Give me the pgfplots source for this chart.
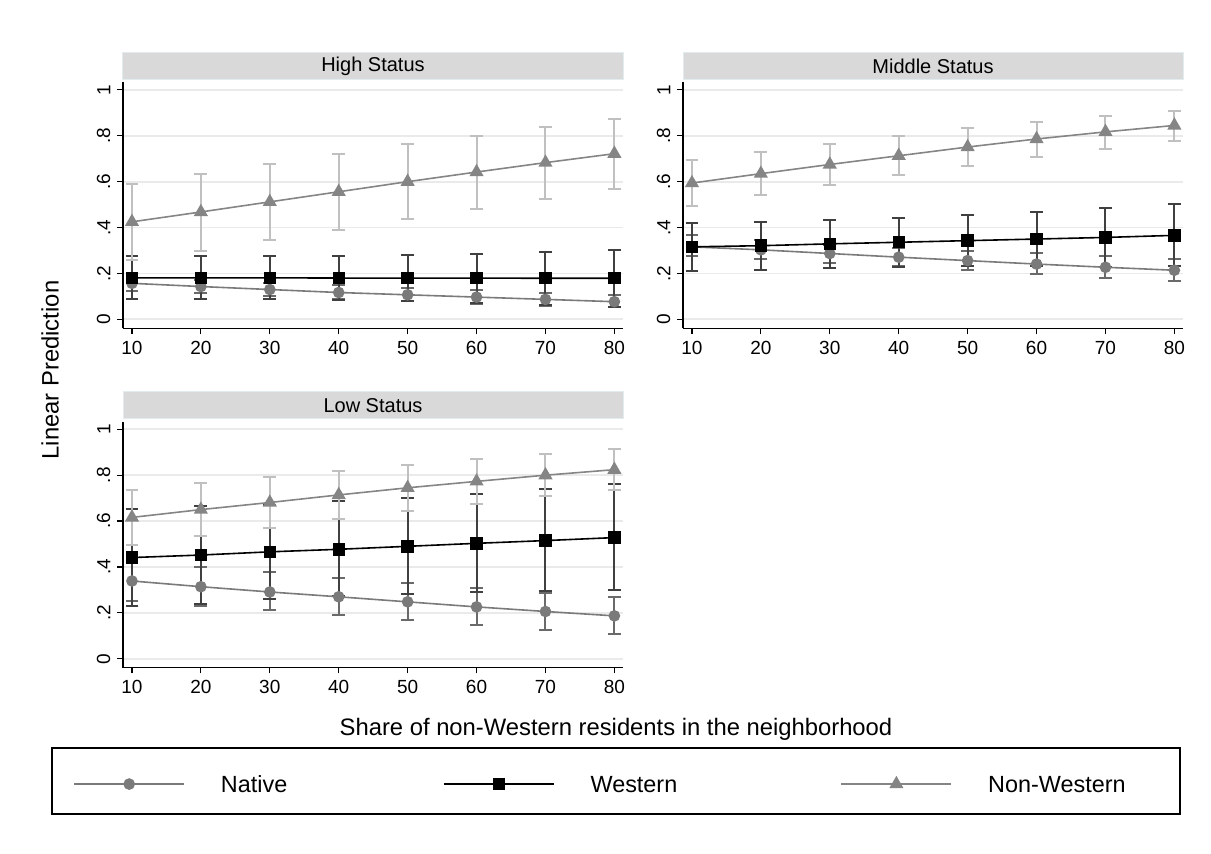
\documentclass[border=0pt]{standalone}
\usepackage{fontspec}
\setmainfont{Liberation Sans}
\usepackage{pgfplots}
\usepackage{pgfplotstable}
\pgfplotsset{compat=1.18}

\definecolor{natcol}{HTML}{7A7A7A}
\definecolor{natci}{HTML}{6A6A6A}
\definecolor{wesci}{HTML}{404040}
\definecolor{nwcol}{HTML}{858585}
\definecolor{nwci}{HTML}{C0C0C0}
\definecolor{hdr}{HTML}{D9D9D9}
\definecolor{hdrline}{HTML}{E2EBED}
\definecolor{gridc}{HTML}{EAEAEA}

% x  y  lo  hi
\pgfplotstableread{
x y lo hi
10 0.157 0.124 0.190
20 0.143 0.115 0.172
30 0.130 0.100 0.160
40 0.117 0.087 0.150
50 0.107 0.078 0.137
60 0.097 0.068 0.127
70 0.087 0.060 0.116
80 0.077 0.052 0.108
}\highnat
\pgfplotstableread{
x y lo hi
10 0.181 0.088 0.277
20 0.181 0.088 0.277
30 0.181 0.087 0.276
40 0.180 0.084 0.278
50 0.180 0.080 0.281
60 0.180 0.072 0.287
70 0.179 0.064 0.294
80 0.179 0.056 0.301
}\highwes
\pgfplotstableread{
x y lo hi
10 0.425 0.258 0.590
20 0.468 0.300 0.635
30 0.512 0.345 0.678
40 0.556 0.390 0.720
50 0.600 0.437 0.762
60 0.642 0.481 0.801
70 0.683 0.526 0.838
80 0.722 0.570 0.871
}\highnw
\pgfplotstableread{
x y lo hi
10 0.316 0.275 0.367
20 0.303 0.262 0.345
30 0.287 0.246 0.326
40 0.271 0.233 0.310
50 0.256 0.217 0.300
60 0.241 0.197 0.290
70 0.227 0.181 0.275
80 0.214 0.167 0.265
}\midnat
\pgfplotstableread{
x y lo hi
10 0.316 0.211 0.421
20 0.321 0.217 0.425
30 0.329 0.224 0.434
40 0.336 0.230 0.442
50 0.343 0.232 0.454
60 0.350 0.232 0.468
70 0.357 0.230 0.484
80 0.366 0.231 0.501
}\midwes
\pgfplotstableread{
x y lo hi
10 0.594 0.494 0.693
20 0.635 0.541 0.729
30 0.675 0.586 0.765
40 0.713 0.628 0.800
50 0.751 0.668 0.832
60 0.786 0.707 0.861
70 0.817 0.743 0.886
80 0.845 0.778 0.907
}\midnw
\pgfplotstableread{
x y lo hi
10 0.339 0.252 0.425
20 0.314 0.232 0.400
30 0.291 0.212 0.378
40 0.270 0.190 0.352
50 0.248 0.168 0.330
60 0.226 0.147 0.309
70 0.206 0.127 0.287
80 0.187 0.106 0.270
}\lownat
\pgfplotstableread{
x y lo hi
10 0.441 0.229 0.653
20 0.452 0.240 0.664
30 0.466 0.262 0.672
40 0.477 0.272 0.687
50 0.490 0.281 0.702
60 0.503 0.289 0.719
70 0.515 0.294 0.740
80 0.528 0.299 0.762
}\lowwes
\pgfplotstableread{
x y lo hi
10 0.616 0.494 0.735
20 0.650 0.533 0.765
30 0.681 0.571 0.793
40 0.714 0.607 0.820
50 0.745 0.642 0.846
60 0.773 0.675 0.870
70 0.800 0.709 0.892
80 0.824 0.737 0.912
}\lownw

\pgfplotsset{
 panel/.style={
  scale only axis, width=250pt, height=123pt,
  xmin=8.7, xmax=81.25, ymin=-0.039, ymax=1.033,
  axis lines*=left,
  axis line style={black, line width=0.6pt},
  xtick={10,20,30,40,50,60,70,80},
  xticklabels={10,20,30,40,50,60,70,80},
  ytick={0,0.2,0.4,0.6,0.8,1},
  yticklabels={0,.2,.4,.6,.8,1},
  tick align=outside, major tick length=2.8pt,
  tick style={black, line width=0.6pt},
  ymajorgrids, grid style={gridc, line width=0.9pt},
  xticklabel style={font=\fontsize{9.5}{11}\selectfont},
  yticklabel style={font=\fontsize{9.5}{11}\selectfont, rotate=90, anchor=south},
  every axis title/.style={at={(0.5,1)}, anchor=south, yshift=1.15pt,
    fill=hdr, draw=hdrline, line width=0.5pt, minimum width=250pt,
    minimum height=13.65pt, inner sep=0pt, font=\fontsize{10}{12}\selectfont},
  clip=false,
 },
 ci/.style={draw=none, mark=none, forget plot,
  error bars/.cd, y dir=both, y explicit, error mark=|,
  error bar style={draw=#1, line width=1pt},
  error mark options={draw=#1, line width=1pt, mark size=3.2pt}},
 natline/.style={natcol, line width=0.8pt, mark=*, mark size=2.5pt,
  mark options={solid, fill=natcol, draw=natcol}},
 wesline/.style={black, line width=0.8pt, mark=square*, mark size=2.7pt,
  mark options={solid, fill=black, draw=black}},
 nwline/.style={nwcol, line width=0.8pt, mark=triangle*, mark size=3.3pt,
  mark options={solid, fill=nwcol, draw=nwcol}},
}

\newcommand{\cis}[3]{%
 \addplot[ci=natci] table[x=x, y=y, y error plus expr=\thisrow{hi}-\thisrow{y}, y error minus expr=\thisrow{y}-\thisrow{lo}] {#1};
 \addplot[ci=wesci] table[x=x, y=y, y error plus expr=\thisrow{hi}-\thisrow{y}, y error minus expr=\thisrow{y}-\thisrow{lo}] {#2};
 \addplot[ci=nwci] table[x=x, y=y, y error plus expr=\thisrow{hi}-\thisrow{y}, y error minus expr=\thisrow{y}-\thisrow{lo}] {#3};
 \addplot[natline, forget plot] table[x=x, y=y] {#1};
 \addplot[wesline, forget plot] table[x=x, y=y] {#2};
 \addplot[nwline, forget plot] table[x=x, y=y] {#3};
}

\begin{document}
\begin{tikzpicture}
\useasboundingbox (0,0) rectangle (605.5pt,-426.5pt);

\begin{axis}[panel, at={(61.5pt,-164.15pt)}, anchor=south west,
  title={High Status},
  ylabel={Linear Prediction},
  ylabel style={at={(axis description cs:-0.146,-0.1695)}, anchor=center, rotate=0,
    font=\fontsize{11.9}{14}\selectfont}]
\cis{\highnat}{\highwes}{\highnw}
\end{axis}

\begin{axis}[panel, at={(341.5pt,-164.15pt)}, anchor=south west,
  title={Middle Status}]
\cis{\midnat}{\midwes}{\midnw}
\end{axis}

\begin{axis}[panel, at={(61.5pt,-333.85pt)}, anchor=south west,
  title={Low Status},
  xlabel={Share of non-Western residents in the neighborhood},
  xlabel style={at={(axis description cs:0.986,-0.2492)}, anchor=center,
    font=\fontsize{11.9}{14}\selectfont},
  legend columns=3,
  legend cell align=left,
  legend style={draw=none, fill=none, inner sep=0pt,
    at={(axis description cs:-0.100,-0.473)}, anchor=west,
    font=\fontsize{11.7}{14}\selectfont,
    nodes={inner sep=0pt, text height=8.4pt, text depth=0pt},
    /tikz/every even column/.append style={column sep=0pt}},
  legend image code/.code={\draw[mark repeat=2, mark phase=2, #1] plot coordinates {(0pt,0pt) (27.5pt,0pt) (55pt,0pt)};}]
\cis{\lownat}{\lowwes}{\lownw}
\addlegendimage{natline}
\addlegendentry{\hspace{18pt}\makebox[111pt][l]{Native}}
\addlegendimage{wesline}
\addlegendentry{\hspace{18pt}\makebox[125pt][l]{Western}}
\addlegendimage{nwline}
\addlegendentry{\hspace{18pt}Non-Western}
\end{axis}

\draw[black, line width=0.6pt] (26pt,-374pt) rectangle (590pt,-407pt);
\end{tikzpicture}
\end{document}
